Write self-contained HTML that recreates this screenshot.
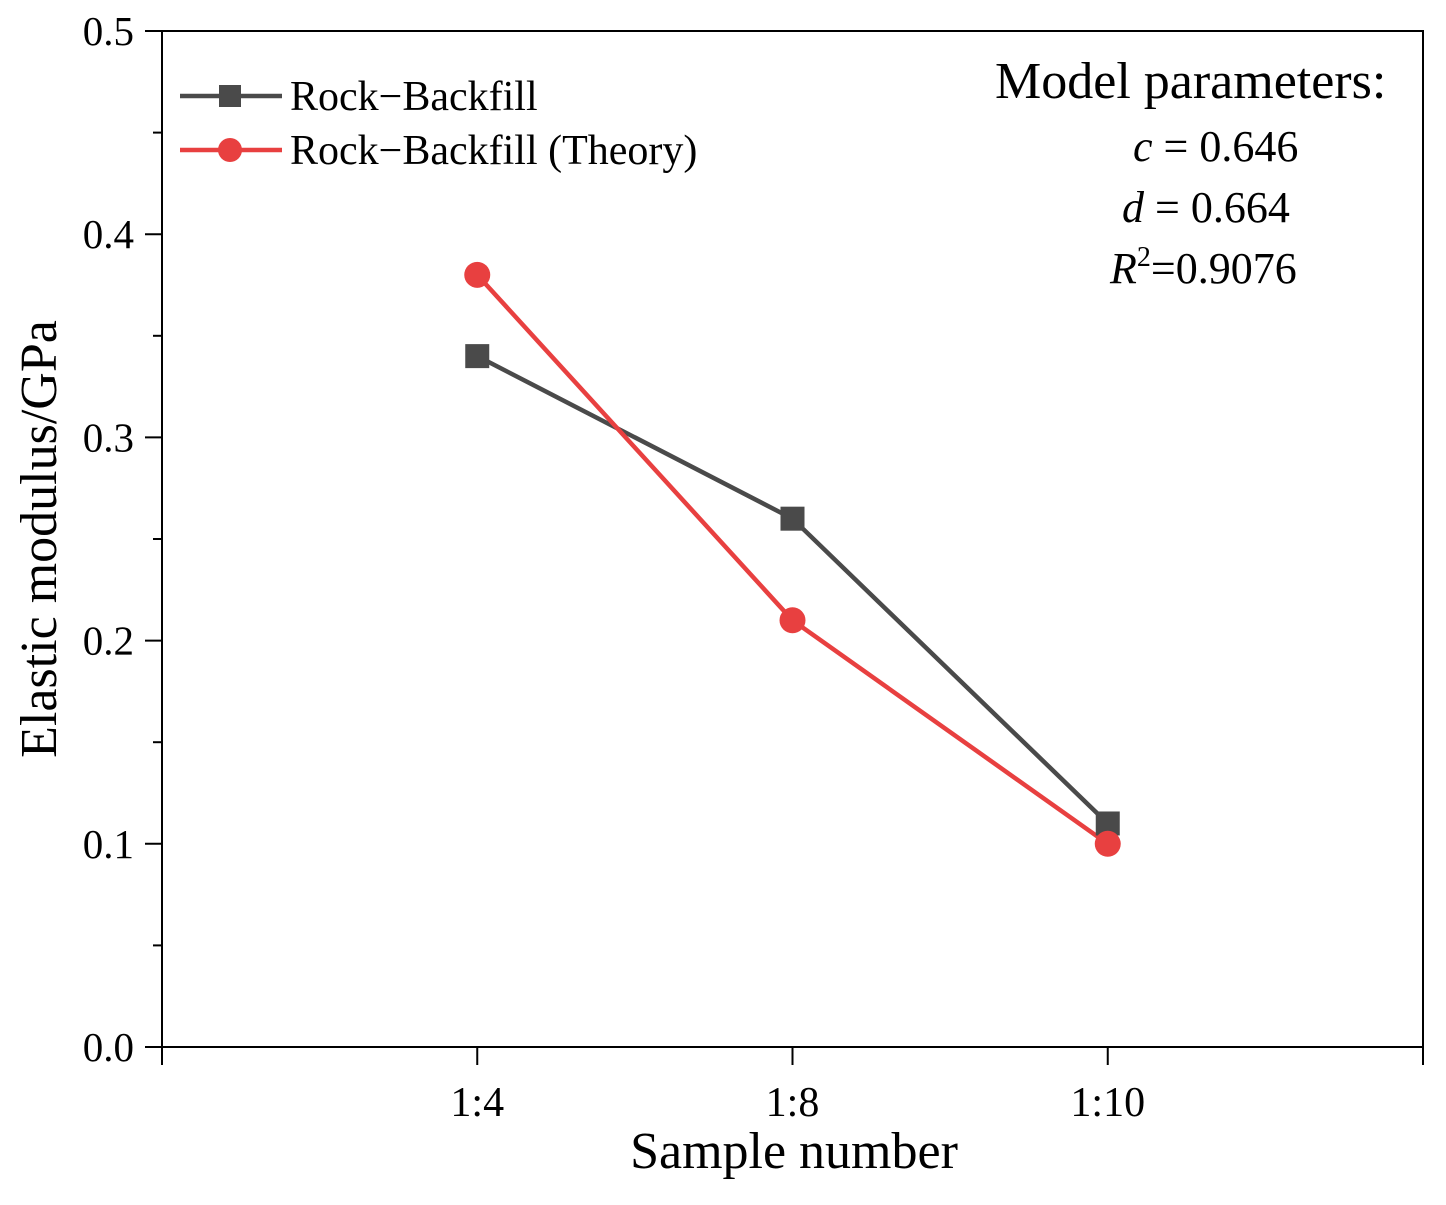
<!DOCTYPE html>
<html><head><meta charset="utf-8"><style>
body{margin:0;background:#fff;}
svg{display:block;font-family:"Liberation Serif",serif;}
</style></head><body>
<svg id="chart" width="1446" height="1205">
<rect x="162" y="31" width="1261" height="1016" fill="none" stroke="#000" stroke-width="2"/>
<g id="axes"></g>
<g id="series"></g>
<text x="794" y="1168" font-size="52" text-anchor="middle">Sample number</text>
<text transform="translate(56,539) rotate(-90)" font-size="52" text-anchor="middle">Elastic modulus/GPa</text>
<g>
<line x1="180" y1="96" x2="282" y2="96" stroke="#4a4a4a" stroke-width="4.5"/>
<rect x="219" y="85" width="22" height="22" fill="#4a4a4a"/>
<text x="290" y="110" font-size="42">Rock−Backfill</text>
<line x1="180" y1="150" x2="282" y2="150" stroke="#e84040" stroke-width="4.5"/>
<circle cx="230" cy="150" r="12" fill="#e84040"/>
<text x="290" y="164" font-size="42">Rock−Backfill (Theory)</text>
</g>
<g font-size="44">
<text x="995" y="98" font-size="52">Model parameters:</text>
<text x="1133" y="161"><tspan font-style="italic">c</tspan> = 0.646</text>
<text x="1122" y="222"><tspan font-style="italic">d</tspan> = 0.664</text>
<text x="1110" y="283"><tspan font-style="italic">R</tspan><tspan font-size="28" dy="-17">2</tspan><tspan dy="17">=0.9076</tspan></text>
</g>
</svg>
<script>
const categories=["1:4","1:8","1:10"];
const measured=[0.34,0.26,0.11];
const theory=[0.38,0.21,0.10];
const yTicks=[0,0.1,0.2,0.3,0.4,0.5];
const yTickLabels=["0.0","0.1","0.2","0.3","0.4","0.5"];
const NS="http://www.w3.org/2000/svg";
const X0=162,X1=1423,Y0=1047,Y1=31;
function xs(i){return X0+(i+1)*(X1-X0)/(categories.length+1);}
function ys(v){return Y0-(v/0.5)*(Y0-Y1);}
function mk(tag,attrs,parent){const e=document.createElementNS(NS,tag);for(const k in attrs)e.setAttribute(k,attrs[k]);parent.appendChild(e);return e;}
const axes=document.getElementById('axes'),ser=document.getElementById('series');
yTicks.forEach((v,i)=>{
  const y=ys(v);
  const t=mk('line',{x1:145,x2:162,y1:y,y2:y,stroke:'#000','stroke-width':2},axes);
  
  
  const l=mk('text',{x:134,y:y+14,'font-size':41,'text-anchor':'end'},axes);
  l.textContent=yTickLabels[i];
  
  
  if(i<yTicks.length-1){const m=ys(v+0.05);
    const mt=mk('line',{x1:153,x2:162,y1:m,y2:m,stroke:'#000','stroke-width':2},axes);
    
    }
});
[-1,0,1,2,3].forEach(i=>{
  const x=i<0?X0:(i===3?X1:xs(i));
  const t=mk('line',{x1:x,x2:x,y1:Y0,y2:1065,stroke:'#000','stroke-width':2},axes);
  
  
});
categories.forEach((c,i)=>{
  const l=mk('text',{x:xs(i),y:1116,'font-size':42,'text-anchor':'middle'},axes);
  l.textContent=c;
  
  
});
function line(vals,color,name){
  const p=mk('polyline',{points:vals.map((v,i)=>xs(i)+','+ys(v)).join(' '),fill:'none',stroke:color,'stroke-width':4.5},ser);
  
  
}
line(measured,'#4a4a4a','measured');
line(theory,'#e84040','theory');
measured.forEach((v,i)=>{
  const r=mk('rect',{x:xs(i)-12,y:ys(v)-12,width:24,height:24,fill:'#4a4a4a'},ser);
  
  
});
theory.forEach((v,i)=>{
  const c=mk('circle',{cx:xs(i),cy:ys(v),r:13,fill:'#e84040'},ser);
  
  
});
</script>
</body></html>
